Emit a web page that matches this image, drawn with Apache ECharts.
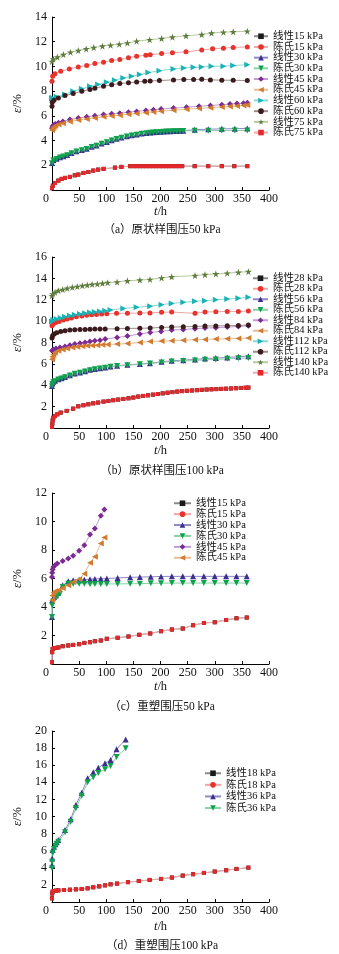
<!DOCTYPE html>
<html><head><meta charset="utf-8">
<script src="https://cdn.jsdelivr.net/npm/echarts@6/dist/echarts.min.js"></script>
<style>html,body{margin:0;padding:0;background:#fff}#c{width:339px;height:954px}</style>
</head><body><div id="c"></div>
<script>
// ---------- data: [t (h), strain (%)] ----------
const A_NAMES = ['线性15 kPa','陈氏15 kPa','线性30 kPa','陈氏30 kPa','线性45 kPa','陈氏45 kPa','线性60 kPa','陈氏60 kPa','线性75 kPa','陈氏75 kPa'];
const B_NAMES = ['线性28 kPa','陈氏28 kPa','线性56 kPa','陈氏56 kPa','线性84 kPa','陈氏84 kPa','线性112 kPa','陈氏112 kPa','线性140 kPa','陈氏140 kPa'];
const C_NAMES = ['线性15 kPa','陈氏15 kPa','线性30 kPa','陈氏30 kPa','线性45 kPa','陈氏45 kPa'];
const D_NAMES = ['线性18 kPa','陈氏18 kPa','线性36 kPa','陈氏36 kPa'];
const CAPTIONS = ['（a）原状样围压50 kPa','（b）原状样围压100 kPa','（c）重塑围压50 kPa','（d）重塑围压100 kPa'];
const Y_MAX = [14, 16, 12, 20];
const X_MAX = 400;

const A_C15 = [[0,8.8],[1.2,9.2],[5.5,9.4],[16,9.6],[32,9.8],[48.5,9.96],[64,10.07],[79,10.23],[95,10.34],[110,10.48],[125,10.56],[141,10.7],[156,10.83],[173,10.9],[181,10.95],[202,11.04],[222,11.1],[247,11.18],[276,11.32],[296,11.43],[316,11.48],[334,11.53],[360,11.58]];
const A_L30 = [[0,2.19],[2.5,2.41],[8.6,2.52],[14.7,2.65],[21,2.73],[28,2.84],[36,3.0],[45,3.14],[55,3.24],[64,3.33],[73,3.49],[82,3.6],[91.5,3.76],[101,3.89],[110,4.03],[119,4.14],[128,4.24],[138,4.35],[147,4.43],[156,4.49],[165,4.57],[174,4.62],[181,4.65],[187,4.68],[193,4.7],[200,4.72],[206,4.73],[212,4.75],[218,4.76],[224,4.77],[230,4.78],[236,4.79],[242,4.8],[263,4.88],[288,4.92],[313,4.95],[337,4.96],[360,4.98]];
const A_C30 = [[0,2.17],[2.5,2.39],[8.6,2.5],[14.7,2.63],[21,2.71],[28,2.82],[36,2.98],[45,3.12],[55,3.22],[64,3.31],[73,3.47],[82,3.58],[91.5,3.74],[101,3.87],[110,4.01],[119,4.12],[128,4.22],[138,4.33],[147,4.41],[156,4.47],[165,4.55],[174,4.6],[181,4.63],[187,4.66],[193,4.68],[200,4.7],[206,4.71],[212,4.73],[218,4.74],[224,4.75],[230,4.76],[236,4.77],[242,4.78],[263,4.8],[288,4.8],[313,4.81],[337,4.82],[360,4.82]];
const A_L45 = [[0,5.0],[1,5.15],[3,5.25],[6,5.35],[12,5.45],[20,5.55],[33,5.7],[48.5,5.82],[64,5.92],[79,6.0],[95,6.1],[110,6.17],[125,6.22],[141,6.3],[156,6.36],[173,6.44],[187,6.5],[201,6.55],[224,6.63],[248,6.7],[271,6.77],[292,6.84],[313,6.9],[328,6.95],[341,6.99],[353,7.03],[360,7.07]];
const A_C45 = [[0,4.85],[1,5.0],[3,5.1],[6,5.2],[12,5.3],[20,5.4],[33,5.55],[48.5,5.66],[64,5.75],[79,5.83],[95,5.92],[110,5.99],[125,6.05],[141,6.12],[156,6.19],[173,6.26],[187,6.32],[201,6.38],[224,6.46],[248,6.54],[271,6.6],[292,6.66],[313,6.72],[328,6.76],[341,6.8],[353,6.84],[360,6.88]];
const A_L60 = [[0,7.4],[1,7.46],[8.6,7.54],[24,7.72],[39,8.0],[55,8.19],[70,8.4],[85,8.54],[101,8.72],[116,8.89],[131.5,9.07],[147,9.21],[162,9.34],[177.6,9.5],[198,9.65],[224,9.8],[243,9.88],[261,9.93],[276,9.96],[294,10.01],[316,10.02],[334,10.07],[360,10.14]];
const A_C60 = [[0,6.78],[0.5,7.1],[3.7,7.27],[11.7,7.45],[24,7.64],[39,7.8],[55,8.0],[70,8.13],[79,8.24],[95,8.4],[110,8.51],[125,8.62],[141,8.67],[156,8.75],[171,8.8],[181,8.82],[198,8.86],[224,8.91],[243,8.94],[261,8.94],[276,8.96],[292,8.91],[313,8.89],[334,8.88],[360,8.86]];
const A_L75 = [[0,10.4],[2.5,10.6],[10,10.75],[21,10.96],[34,11.15],[48.5,11.28],[63,11.42],[77,11.53],[93,11.64],[108,11.72],[124,11.8],[139,11.9],[156,12.04],[180,12.16],[202,12.26],[222,12.37],[247,12.48],[276,12.58],[294,12.7],[316,12.77],[334,12.8],[360,12.85]];
const A_C75 = [[0,0.15],[1.5,0.35],[5.5,0.57],[11.7,0.76],[17.8,0.9],[24,0.98],[33,1.06],[42,1.19],[48.5,1.25],[58,1.38],[67,1.46],[76,1.57],[85,1.65],[95,1.71],[116,1.81],[128,1.87],[144,1.93],[150,1.93],[156,1.93],[162,1.93],[168,1.93],[174,1.93],[180,1.93],[186,1.93],[192,1.93],[198,1.93],[204,1.93],[210,1.93],[216,1.93],[222,1.93],[228,1.93],[234,1.93],[240,1.93],[263,1.93],[288,1.93],[313,1.93],[336,1.93],[360,1.93]];
const A_L15 = A_C75;

const B_C28 = [[0,9.57],[2.5,9.72],[7.4,9.88],[13.5,9.97],[21,10.1],[28,10.19],[36,10.29],[45,10.42],[55,10.48],[64,10.54],[73,10.6],[82,10.63],[91.5,10.67],[101,10.69],[119,10.73],[139,10.73],[162,10.76],[180.6,10.77],[202,10.82],[220.6,10.85],[263.6,10.73],[282,10.85],[302,10.88],[323,10.91],[343.5,10.91],[362,10.94]];
const B_L56 = [[0,3.94],[0.6,4.16],[2.5,4.32],[5.5,4.41],[11.7,4.57],[17.8,4.66],[24,4.78],[33,4.94],[42,5.1],[51.6,5.19],[61,5.32],[70,5.44],[79,5.53],[88.5,5.6],[98,5.66],[108,5.75],[120,5.82],[139,5.91],[162,5.99],[180.6,6.07],[202,6.19],[220.6,6.29],[242,6.35],[263.6,6.41],[282,6.5],[302,6.54],[323,6.6],[343.5,6.66],[362,6.72]];
const B_C56 = [[0,3.9],[0.6,4.12],[2.5,4.28],[5.5,4.38],[11.7,4.54],[17.8,4.63],[24,4.75],[33,4.91],[42,5.07],[51.6,5.16],[61,5.29],[70,5.41],[79,5.5],[88.5,5.57],[98,5.63],[108,5.72],[120,5.79],[139,5.88],[162,5.96],[180.6,6.03],[202,6.14],[220.6,6.22],[242,6.27],[263.6,6.32],[282,6.38],[302,6.42],[323,6.47],[343.5,6.52],[362,6.56]];
const B_L84 = [[0,7.22],[2.5,7.35],[7.4,7.44],[14.7,7.54],[24,7.63],[33,7.75],[42,7.85],[51.6,7.94],[61,8.0],[70,8.1],[79,8.16],[88.5,8.22],[98,8.32],[120,8.47],[139,8.6],[162,8.8],[181,8.94],[201,9.04],[220.6,9.16],[242,9.22],[263.6,9.29],[282,9.35],[302,9.38],[323,9.44],[343.5,9.5],[362,9.57]];
const B_C84 = [[0,6.44],[0.6,6.66],[2.5,6.85],[5.5,7.07],[11.7,7.22],[19.7,7.35],[28,7.44],[37.5,7.54],[46.7,7.6],[56,7.66],[65,7.69],[74,7.72],[83.6,7.75],[93,7.79],[102.6,7.82],[120,7.85],[139,7.91],[162,8.0],[180.6,8.1],[202,8.13],[220.6,8.16],[242,8.22],[263.6,8.26],[282,8.29],[302,8.32],[323,8.35],[343.5,8.38],[362,8.41]];
const B_L112 = [[0,9.97],[2.5,10.1],[8.6,10.19],[16,10.29],[24,10.42],[33,10.51],[42,10.6],[51.6,10.67],[61,10.73],[70,10.8],[79,10.86],[88.5,10.91],[98,10.98],[108,11.04],[131.5,11.19],[156,11.3],[181,11.4],[202,11.54],[220.6,11.66],[242,11.76],[263.6,11.85],[282,11.91],[302,12.0],[323,12.07],[343.5,12.13],[362,12.23]];
const B_C112 = [[0,8.41],[1.2,8.63],[3.7,8.79],[8.6,8.91],[16,9.04],[24,9.1],[33,9.16],[42,9.19],[51.6,9.22],[61,9.22],[70,9.23],[79,9.26],[88.5,9.26],[98,9.27],[120,9.29],[139,9.32],[162,9.33],[181,9.35],[202,9.41],[220.6,9.44],[242,9.47],[263.6,9.5],[282,9.54],[302,9.55],[323,9.57],[343.5,9.6],[362,9.63]];
const B_L140 = [[0,12.38],[1.2,12.54],[5.5,12.7],[11.7,12.85],[19.7,12.95],[28,13.07],[37.5,13.16],[46.7,13.23],[56,13.32],[65,13.38],[74,13.45],[83.6,13.48],[93,13.54],[102.6,13.6],[120,13.66],[139,13.77],[162,13.84],[180.6,13.9],[202,14.04],[220.6,14.15],[263.6,14.26],[282,14.35],[302,14.42],[323,14.48],[343.5,14.57],[362,14.63]];
const B_C140 = [[0,0.1],[0.6,0.4],[1.2,0.72],[2.5,0.97],[5.5,1.13],[9.8,1.28],[16,1.44],[27,1.6],[39,1.81],[48.5,2.03],[58,2.13],[67,2.22],[76,2.31],[85,2.38],[95,2.47],[104,2.53],[113,2.6],[122,2.66],[131.5,2.72],[141,2.78],[150,2.85],[159,2.94],[168,3.0],[177,3.06],[186,3.12],[195,3.18],[204,3.24],[213,3.3],[222,3.36],[231,3.41],[240,3.45],[249,3.48],[258,3.51],[267,3.54],[276,3.57],[285,3.6],[294,3.62],[303,3.64],[312,3.66],[321,3.68],[330,3.7],[339,3.72],[348,3.75],[357,3.77],[362,3.78]];
const B_L28 = B_C140;

const C_C15 = [[0,0.12],[0.3,0.83],[1.2,1.06],[3.7,1.11],[7.4,1.13],[11.7,1.16],[19.7,1.25],[30,1.3],[39,1.34],[50,1.39],[59.6,1.48],[70,1.53],[79,1.6],[90,1.65],[101,1.77],[121,1.84],[141,1.93],[161,2.05],[181,2.14],[201,2.3],[221,2.42],[241,2.49],[260,2.72],[280,2.88],[300,2.93],[321,3.09],[340,3.21],[359,3.26]];
const C_L15 = C_C15;
const C_L30 = [[0,3.29],[0.5,4.47],[3.7,4.7],[7.4,4.82],[11.7,5.0],[19.7,5.52],[30,5.8],[39,5.88],[50,5.92],[59.6,5.92],[70,5.95],[79,5.97],[90,5.99],[101,6.0],[121,6.04],[144,6.08],[162,6.1],[182,6.12],[201,6.14],[221,6.15],[241,6.15],[260,6.15],[280,6.15],[300,6.15],[321,6.15],[340,6.15],[359,6.15]];
const C_C30 = [[0,3.29],[0.5,4.1],[2.5,4.39],[5.5,4.58],[9.8,4.77],[14.7,4.93],[19.7,5.4],[30,5.64],[39,5.64],[50,5.64],[59.6,5.64],[70,5.62],[79,5.62],[90,5.62],[101,5.62],[121,5.62],[144,5.63],[162,5.64],[182,5.66],[201,5.67],[221,5.68],[241,5.68],[260,5.68],[280,5.68],[300,5.68],[321,5.68],[340,5.68],[359,5.68]];
const C_L45 = [[0,6.1],[0.3,6.4],[1.2,6.64],[2.5,6.81],[5.5,6.93],[9.8,7.05],[19.7,7.23],[30,7.4],[39,7.59],[50,7.94],[59.6,8.34],[70,9.09],[79,9.51],[90,10.4],[96.5,10.85]];
const C_C45 = [[0,4.47],[0.5,4.8],[2.5,5.0],[5.5,5.1],[11.7,5.17],[19.7,5.33],[30,5.52],[39,5.76],[50,5.94],[59.6,6.34],[70,7.1],[79,7.52],[90,8.46],[96.5,8.88]];

const D_C18 = [[0,0.43],[0.3,1.0],[1.2,1.21],[3.7,1.29],[7.4,1.33],[11.7,1.36],[22,1.4],[33,1.44],[44,1.48],[54.7,1.52],[65.7,1.6],[76,1.72],[87,1.83],[97.7,1.95],[108,2.07],[120,2.15],[140,2.32],[160,2.45],[180,2.58],[201,2.7],[221,2.86],[241,3.09],[260,3.25],[280,3.4],[300,3.56],[321,3.71],[340,3.87],[362,4.02]];
const D_L18 = D_C18;
const D_L36 = [[0,4.33],[0.3,5.1],[1.2,6.08],[3.7,6.47],[6.1,6.74],[8.6,6.98],[11.7,7.25],[24,8.42],[34.4,9.67],[44,11.35],[54.7,12.79],[65.7,14.46],[76,15.17],[85.4,15.71],[97.7,16.22],[108,16.61],[119,17.86],[135.8,19.02]];
const D_C36 = [[0,3.94],[0.3,4.72],[1.2,5.69],[3.7,6.2],[6.1,6.59],[8.6,6.82],[11.7,7.06],[24,8.15],[34.4,9.4],[44,10.96],[54.7,12.44],[65.7,14.0],[76,14.58],[85.4,15.09],[97.7,15.52],[108,15.91],[119,16.96],[135.8,17.97]];

// ---------- styles ----------
const STAR = 'path://M50,0L61.8,35.1L98.1,35.1L68.8,56.8L79.4,90.9L50,69.8L20.6,90.9L31.2,56.8L1.9,35.1L38.2,35.1Z';
const ST = [
  {symbol:'rect', size:4, color:'#1a1a1a', line:'#8a8a8a'},
  {symbol:'circle', size:5, color:'#e8322e', line:'#f3a5a3'},
  {symbol:'triangle', size:6, color:'#3b2f8e', line:'#9088c2'},
  {symbol:'triangle', rotate:180, size:6, color:'#0fa14e', line:'#88d0a5'},
  {symbol:'diamond', size:6, color:'#7b2b91', line:'#c29bd2'},
  {symbol:'triangle', rotate:90, size:6, color:'#d27b2e', line:'#eabd94'},
  {symbol:'triangle', rotate:-90, size:6, color:'#19b3b6', line:'#8cd8d9'},
  {symbol:'circle', size:5, color:'#3b1b1d', line:'#9b8d8d'},
  {symbol:STAR, size:7, color:'#5e7c3b', line:'#b9c9a1'},
  {symbol:'rect', size:4, color:'#e3272a', line:'#f2a9a9'}
];
const RSQ = ST[9];
const FONT = "'Liberation Serif','Noto Sans CJK SC',serif";

function mk(gi, name, data, st){
  return {type:'line', name:name, data:data, xAxisIndex:gi, yAxisIndex:gi,
    symbol:st.symbol, symbolSize:st.size, symbolRotate:st.rotate||0, showAllSymbol:true,
    itemStyle:{color:st.color}, lineStyle:{color:st.line, width:1},
    emphasis:{disabled:true}, silent:true, animation:false};
}

const series = [];
// (a)
[A_L15, A_C15, A_L30, A_C30, A_L45, A_C45, A_L60, A_C60, A_L75, A_C75].forEach((d,i)=>series.push(mk(0, A_NAMES[i], d, ST[i])));
// (b)
[B_L28, B_C28, B_L56, B_C56, B_L84, B_C84, B_L112, B_C112, B_L140, B_C140].forEach((d,i)=>series.push(mk(1, B_NAMES[i], d, ST[i])));
// (c)
series.push(mk(2, C_NAMES[0], C_L15, ST[0]));
[C_L30, C_C30, C_L45, C_C45].forEach((d,i)=>series.push(mk(2, C_NAMES[i+2], d, ST[i+2])));
series.push(mk(2, C_NAMES[1], C_C15, RSQ));
// (d)
series.push(mk(3, D_NAMES[1], [], ST[1]));
series.push(mk(3, D_NAMES[0], D_L18, ST[0]));
series.push(mk(3, D_NAMES[2], D_L36, ST[2]));
series.push(mk(3, D_NAMES[3], D_C36, ST[3]));
series.push(mk(3, D_NAMES[1], D_C18, RSQ));

const GRIDS = [
  {left:52, top:17, width:217, height:173},
  {left:52, top:257, width:217, height:171},
  {left:52, top:493, width:217, height:171},
  {left:52, top:731, width:217, height:171}
];
const NAME_GAP_X = [15,16,16,18];
const LEGENDS = [
  {names:A_NAMES, left:253, top:31, w:14, gap:0.2},
  {names:B_NAMES, left:252, top:273, w:15, gap:0},
  {names:C_NAMES, left:173, top:498, w:17, gap:0.4},
  {names:D_NAMES, left:204, top:768, w:16, gap:1.1}
];
const CAP_Y = [230, 471, 707, 946];

const xAxis = GRIDS.map((g,i)=>({
  type:'value', gridIndex:i, min:0, max:X_MAX, interval:50,
  name:'{i|t}/h', nameLocation:'middle', nameGap:NAME_GAP_X[i],
  nameTextStyle:{fontFamily:FONT, fontSize:12.5, color:'#111', rich:{i:{fontFamily:FONT, fontSize:12.5, fontStyle:'italic', color:'#111'}}},
  axisLine:{lineStyle:{color:'#000', width:1}},
  axisTick:{inside:true, length:3, lineStyle:{color:'#000'}},
  splitLine:{show:false},
  axisLabel:{margin:3, fontFamily:FONT, fontSize:12, color:'#111',
    formatter:v=> v===0 ? '{z|0}' : String(v),
    rich:{z:{padding:[0,12,0,0], fontFamily:FONT, fontSize:12, color:'#111'}}}
}));
const yAxis = GRIDS.map((g,i)=>({
  type:'value', gridIndex:i, min:0, max:Y_MAX[i], interval:2,
  name:'{i|ε}/%', nameLocation:'middle', nameGap:20,
  nameTextStyle:{fontFamily:FONT, fontSize:12.5, color:'#111', rich:{i:{fontFamily:FONT, fontSize:12.5, fontStyle:'italic', color:'#111'}}},
  axisLine:{show:true, lineStyle:{color:'#000', width:1}},
  axisTick:{show:true, inside:true, length:3, lineStyle:{color:'#000'}},
  splitLine:{show:false},
  axisLabel:{margin:5, fontFamily:FONT, fontSize:12, color:'#111', formatter:v=> v===0 ? '' : String(v)}
}));
const legend = LEGENDS.map(L=>({
  data:L.names, orient:'vertical', left:L.left, top:L.top, itemWidth:L.w, itemHeight:7, itemGap:L.gap,
  padding:0, selectedMode:false,
  textStyle:{fontFamily:FONT, fontSize:10.5, color:'#111', lineHeight:10}
}));
const graphic = CAPTIONS.map((c,i)=>({
  type:'text', x:162, y:CAP_Y[i], silent:true,
  style:{text:c, fontFamily:FONT, fontSize:11.5, fill:'#111', textAlign:'center', textVerticalAlign:'middle'}
}));

const chart = echarts.init(document.getElementById('c'), null, {renderer:'canvas'});
chart.setOption({animation:false, backgroundColor:'#fff', grid:GRIDS, xAxis, yAxis, legend, graphic, series});
</script></body></html>
